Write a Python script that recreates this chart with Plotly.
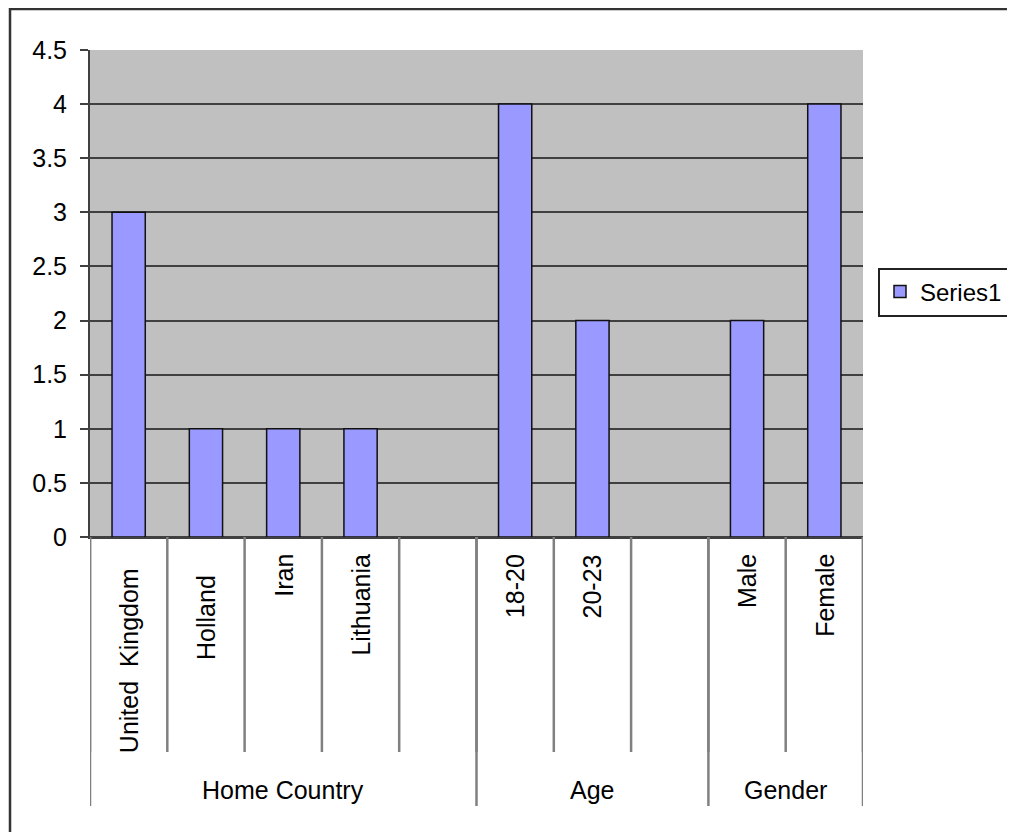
import plotly.graph_objects as go

# ---- data ----
categories = ["United\u00a0 Kingdom\u00a0\u00a0", "Holland\u00a0\u00a0\u00a0", "Iran", "Lithuania", "",
              "18-20", "20-23", "", "Male", "Female"]
values = [3, 1, 1, 1, None, 4, 2, None, 2, 4]
groups = ["Home Country", "Age", "Gender"]
group_sizes = [5, 3, 2]
y_tick_vals = [0, 0.5, 1, 1.5, 2, 2.5, 3, 3.5, 4, 4.5]
y_tick_text = ["0", "0.5", "1", "1.5", "2", "2.5", "3", "3.5", "4", "4.5"]
series_name = "Series1"

FONT = "Liberation Sans, Arial, sans-serif"
FS = 25
OFF = 8  # page body margin
SCR_W, SCR_H = 1015, 832
W, H = SCR_W - OFF, SCR_H - OFF
# plot area in screen pixels
PX0, PX1, PY0, PY1 = 90, 863, 50, 537
L, T = PX0 - OFF, PY0 - OFF
R = W - (PX1 - OFF)
B = H - (PY1 - OFF)
plot_w = PX1 - PX0
plot_h = PY1 - PY0

def py(s):  # screen row -> paper y
    return (PY1 - s) / plot_h

def pxx(s):  # screen column -> paper x
    return (s - PX0) / plot_w

x_pos = list(range(len(categories)))

fig = go.Figure()
fig.add_trace(go.Bar(
    x=x_pos, y=values, name=series_name, width=0.43,
    marker=dict(color="#9999ff", line=dict(color="#111111", width=1.5)),
    showlegend=True,
))

shapes = []
annotations = []
# category divider lines
for i in range(len(categories) + 1):
    shapes.append(dict(type="line", xref="x", yref="paper",
                       x0=i - 0.5, x1=i - 0.5, y0=0, y1=py(752),
                       line=dict(color="#808080", width=2.5)))
# group divider lines and labels
start = 0
bounds = [-0.5]
for g, n in zip(groups, group_sizes):
    end = start + n
    bounds.append(end - 0.5)
    annotations.append(dict(xref="x", yref="paper", x=(start + end - 1) / 2,
                            y=py(790), text=g, showarrow=False,
                            xanchor="center", yanchor="middle",
                            font=dict(family=FONT, size=FS, color="black")))
    start = end
for b in bounds:
    shapes.append(dict(type="line", xref="x", yref="paper",
                       x0=b, x1=b, y0=0, y1=py(806),
                       line=dict(color="#808080", width=2.5)))
# category labels
for xi, c in zip(x_pos, categories):
    if c:
        annotations.append(dict(xref="x", yref="paper", x=xi, y=py(552),
                                text=c, showarrow=False, textangle=-90,
                                xanchor="center", yanchor="top",
                                font=dict(family=FONT, size=FS, color="black")))
# outer chart border (top and left visible)
shapes.append(dict(type="line", xref="paper", yref="paper",
                   x0=pxx(10), x1=pxx(1040), y0=py(9), y1=py(9),
                   line=dict(color="#333333", width=2.5)))
shapes.append(dict(type="line", xref="paper", yref="paper",
                   x0=pxx(10), x1=pxx(10), y0=py(8), y1=py(860),
                   line=dict(color="#333333", width=2.5)))

fig.update_layout(
    width=W, height=H,
    margin=dict(l=L, r=R, t=T, b=B, pad=0, autoexpand=False),
    paper_bgcolor="white",
    plot_bgcolor="#c0c0c0",
    font=dict(family=FONT, size=FS, color="black"),
    showlegend=True,
    legend=dict(x=pxx(878), y=py(292), xanchor="left", yanchor="middle",
                bordercolor="#222222", borderwidth=2, bgcolor="white",
                font=dict(family=FONT, size=24, color="black"),
                itemwidth=30, tracegroupgap=0),
    shapes=shapes,
    annotations=annotations,
)
fig.update_xaxes(range=[-0.5, len(categories) - 0.5], showticklabels=False,
                 showgrid=False, zeroline=False, showline=True,
                 linecolor="#404040", linewidth=2, ticks="", fixedrange=True)
fig.update_yaxes(range=[0, 4.5], tickvals=y_tick_vals, ticktext=y_tick_text,
                 showgrid=True, gridcolor="#404040", gridwidth=2,
                 zeroline=True, zerolinecolor="#404040", zerolinewidth=2,
                 showline=True, linecolor="#404040", linewidth=2,
                 ticks="outside", ticklen=8, tickwidth=2, tickcolor="#404040",
                 ticklabelstandoff=8,
                 tickfont=dict(family=FONT, size=FS, color="black"),
                 fixedrange=True)

fig.write_html("out.html")
